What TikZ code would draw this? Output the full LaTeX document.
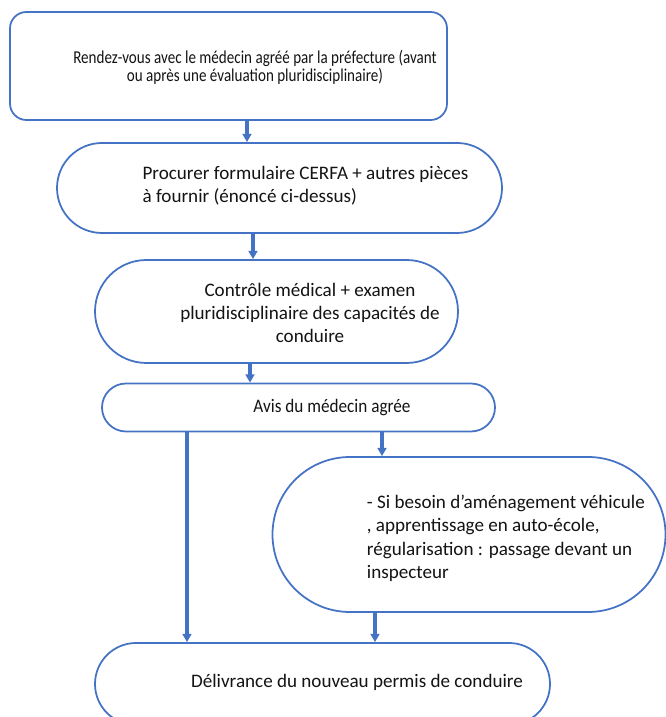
\documentclass[tikz,border=0pt]{standalone}
\usepackage{fontspec}
\setmainfont{Carlito}
\newfontfamily\tightfont[FakeStretch=0.83]{Carlito}
\newfontfamily\avisfont[FakeStretch=0.9]{Carlito}
\usetikzlibrary{arrows.meta,shapes.misc}
\definecolor{flowblue}{RGB}{68,114,196}
\definecolor{inktext}{RGB}{20,20,20}

\begin{document}
\begin{tikzpicture}[
    >={Triangle[length=7pt, width=7.5pt]},
    box/.style={draw=flowblue, line width=1.5pt, fill=white, inner sep=0pt},
    stadium/.style={box, rounded rectangle},
    boxtext/.style={text=inktext, font=\fontsize{16.3}{19.8}\selectfont, inner sep=0pt},
    flowarrow/.style={draw=flowblue, line width=2.6pt, ->}
]

% Page frame
\useasboundingbox (0,0) rectangle (19.98,21.51);
\clip (0,0) rectangle (19.98,21.51);

% 1. Rendez-vous
\node[box, rounded corners=14pt, minimum width=13.11cm, minimum height=3.24cm] (rdv) at (6.855, 19.53) {};
\node[boxtext, font=\tightfont\fontsize{15.5}{15.6}\selectfont, align=center] (rdv text) at (7.65, 19.50) {
    Rendez-vous avec le médecin agréé par la préfecture (avant\\
    ou après une évaluation pluridisciplinaire)
};

% 2. Formulaire CERFA
\node[stadium, minimum width=13.35cm, minimum height=2.7cm] (cerfa) at (8.385, 15.87) {};
\node[boxtext, align=left, anchor=west] (cerfa text) at (4.27, 15.93) {
    Procurer formulaire CERFA + autres pièces\\
    à fournir (énoncé ci-dessus)
};

% 3. Controle medical
\node[stadium, minimum width=10.89cm, minimum height=3.09cm] (controle) at (8.295, 12.165) {};
\node[boxtext, align=center] (controle text) at (9.3, 12.12) {
    Contrôle médical + examen\\
    pluridisciplinaire des capacités de\\
    conduire
};

% 4. Avis du medecin
\node[stadium, minimum width=11.79cm, minimum height=1.44cm] (avis) at (8.955, 9.285) {};
\node[boxtext, font=\avisfont\fontsize{16.3}{18}\selectfont] (avis text) at (9.96, 9.27) {Avis du médecin agrée};

% 5. Amenagement / inspecteur
\node[stadium, minimum width=11.79cm, minimum height=4.65cm] (inspect) at (14.07, 5.475) {};
\node[boxtext, align=left, anchor=west] (inspect text) at (11.0, 5.36) {
    - Si besoin d’aménagement véhicule\\
    , apprentissage en auto-école,\\
    régularisation : passage devant un\\
    inspecteur
};

% 6. Delivrance
\node[stadium, minimum width=13.65cm, minimum height=2.46cm] (permis) at (9.675, 0.99) {};
\node[boxtext] (permis text) at (10.71, 1.05) {Délivrance du nouveau permis de conduire};

% Arrows
\draw[flowarrow] ([xshift=0.555cm]rdv.south) -- ([xshift=0.555cm]rdv.south |- cerfa.north);
\draw[flowarrow] ([xshift=-0.795cm]cerfa.south) -- ([xshift=-0.795cm]cerfa.south |- controle.north);
\draw[flowarrow] ([xshift=-0.795cm]controle.south) -- ([xshift=-0.795cm]controle.south |- avis.north);
\draw[flowarrow] ([xshift=-3.345cm]avis.south) -- ([xshift=-3.345cm]avis.south |- permis.north);
\draw[flowarrow] ([xshift=2.505cm]avis.south) -- ([xshift=2.505cm]avis.south |- inspect.north);
\draw[flowarrow] ([xshift=-2.82cm]inspect.south) -- ([xshift=-2.82cm]inspect.south |- permis.north);

\end{tikzpicture}
\end{document}
